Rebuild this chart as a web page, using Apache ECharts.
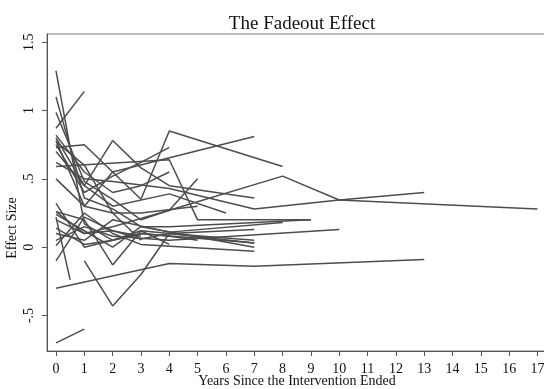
<!DOCTYPE html>
<html>
<head>
<meta charset="utf-8">
<script src="https://cdn.jsdelivr.net/npm/echarts@6/dist/echarts.min.js"></script>
<style>
    html, body { margin: 0; padding: 0; background: #fff; }
    #fadeoutChart { width: 544px; height: 389px; }
</style>
</head>
<body>
<div id="fadeoutChart"></div>
<script>
    // one line per study: [years since intervention ended, effect size]
    const st01 = [[0, -0.70], [1, -0.60]]
    const st02 = [[0, -0.30], [4, -0.12], [7, -0.14], [13, -0.09]]
    const st03 = [[1, -0.10], [2, -0.43], [3, -0.20], [4, 0.10], [7, 0.05]]
    const st04 = [[0, 0.87], [1, 1.14]]
    const st05 = [[0, 1.29], [1, 0.17], [2, 0.05], [3, 0.12], [4, 0.10], [7, 0.03]]
    const st06 = [[0, 1.10], [1, 0.36], [2, 0.28], [3, 0.15], [7, 0.00]]
    const st07 = [[0, 0.985], [1, 0.48], [2, 0.35], [3, 0.20], [4, 0.27], [5, 0.50]]
    const st08 = [[0, 0.80], [1, 0.45], [2, 0.78], [3, 0.58], [4, 0.45], [7, 0.36]]
    const st09 = [[0, 0.73], [1, 0.75], [2, 0.55], [3, 0.35], [4, 0.85], [8, 0.59]]
    const st10 = [[0, 0.59], [4, 0.64], [5, 0.20], [9, 0.20]]
    const st11 = [[0, 0.78], [1, 0.30], [2, 0.55], [7, 0.81]]
    const st12 = [[0, 0.75], [1, 0.40], [2, 0.52], [3, 0.62], [4, 0.73]]
    const st13 = [[0, 0.70], [1, 0.45], [2, 0.30], [4, 0.39], [6, 0.25]]
    const st14 = [[0, 0.26], [1, 0.10], [2, 0.15], [4, 0.27], [8, 0.52], [10, 0.345], [17, 0.28]]
    const st15 = [[0, 0.62], [1, 0.50], [2, 0.48], [4, 0.43], [7, 0.28], [10, 0.345], [13, 0.40]]
    const st16 = [[0, 0.10], [1, 0.05], [2, 0.20], [4, 0.11], [8, 0.18]]
    const st17 = [[0, 0.05], [1, 0.15], [2, 0.08], [4, 0.05], [10, 0.13]]
    const st18 = [[0, 0.20], [1, 0.10], [2, 0.12], [3, 0.06], [4, 0.10], [7, 0.13]]
    const st19 = [[0, 0.14], [1, 0.02], [2, 0.05], [3, 0.10], [7, 0.03]]
    const st20 = [[0, 0.01], [1, 0.25], [2, 0.10], [3, 0.02], [7, -0.03]]
    const st21 = [[0, 0.24], [1, 0.12], [2, 0.00], [3, 0.15], [4, 0.15], [9, 0.20]]
    const st22 = [[0, 0.22], [0.5, -0.24]]
    const st23 = [[0, -0.10], [1, 0.22], [2, 0.12], [3, 0.08]]
    const st24 = [[0, 0.32], [1, 0.00], [2, 0.05], [3, 0.10], [4, 0.08], [5, 0.05]]
    const st25 = [[0, 0.26], [1, 0.20], [2, -0.13], [3, 0.12], [4, 0.02]]
    const st26 = [[0, 0.50], [1, 0.30], [2, 0.25], [3, 0.25], [5, 0.30]]
    const st27 = [[0, 0.82], [1, 0.55], [2, 0.40], [3, 0.45], [4, 0.55]]
    const st28 = [[0, 0.77], [1, 0.60], [2, 0.25], [3, 0.05]]

    const allStudies = [st01, st02, st03, st04, st05, st06, st07, st08, st09, st10,
        st11, st12, st13, st14, st15, st16, st17, st18, st19, st20,
        st21, st22, st23, st24, st25, st26, st27, st28]

    const xTicks = [0, 1, 2, 3, 4, 5, 6, 7, 8, 9, 10, 11, 12, 13, 14, 15, 16, 17]
    const yTicks = [-0.5, 0, 0.5, 1, 1.5]
    const yTickText = ['-.5', '0', '.5', '1', '1.5']

    const serif = '"Liberation Serif", "DejaVu Serif", serif'
    const lineGray = '#4d4d4d'

    const _fadeoutOption = {
        animation: false,
        title: {
            text: 'The Fadeout Effect',
            left: 297,
            textAlign: 'center',
            top: 10,
            textStyle: {
                fontFamily: serif,
                fontWeight: 'normal',
                fontSize: 19,
                color: '#111'
            }
        },
        // axis titles placed by hand, the x one is squeezed under the tick labels
        graphic: [{
            type: 'text',
            x: 12,
            y: 228,
            rotation: Math.PI / 2,
            style: {
                text: 'Effect Size',
                align: 'center',
                verticalAlign: 'middle',
                font: '14px ' + serif,
                fill: '#111'
            }
        }, {
            type: 'text',
            x: 297,
            y: 381,
            style: {
                text: 'Years Since the Intervention Ended',
                align: 'center',
                verticalAlign: 'middle',
                font: '14px ' + serif,
                fill: '#111'
            }
        }],
        grid: {
            left: 47,
            top: 34,
            right: -2,
            bottom: 38,
            outerBoundsMode: 'none',
            show: true,
            borderColor: '#808080',
            borderWidth: 1
        },
        xAxis: {
            type: 'value',
            min: -0.318,
            max: 17.3,
            splitLine: { show: false },
            axisLine: { onZero: false, lineStyle: { color: '#555', width: 1 } },
            axisTick: {
                show: true,
                length: 5,
                customValues: xTicks,
                lineStyle: { color: '#555' }
            },
            axisLabel: {
                customValues: xTicks,
                margin: 11,
                fontFamily: serif,
                fontSize: 14,
                color: '#111'
            }
        },
        yAxis: {
            type: 'value',
            min: -0.76,
            max: 1.56,
            splitLine: { show: false },
            axisLine: { show: true, onZero: false, lineStyle: { color: '#555', width: 1 } },
            axisTick: {
                show: true,
                length: 5,
                customValues: yTicks,
                lineStyle: { color: '#555' }
            },
            axisLabel: {
                customValues: yTicks,
                rotate: 90,
                margin: 11,
                fontFamily: serif,
                fontSize: 14,
                color: '#111',
                formatter: function (v) {
                    const i = yTicks.findIndex(t => Math.abs(t - v) < 1e-6)
                    return i >= 0 ? yTickText[i] : ''
                }
            }
        },
        series: allStudies.map(pts => ({
            type: 'line',
            data: pts,
            symbol: 'none',
            silent: true,
            clip: true,
            lineStyle: { color: lineGray, width: 1.5 }
        }))
    }

    const fadeoutCharts = echarts.init(document.getElementById('fadeoutChart'))
    fadeoutCharts.setOption(_fadeoutOption)
    window.addEventListener('resize', () => fadeoutCharts.resize())
</script>
</body>
</html>
